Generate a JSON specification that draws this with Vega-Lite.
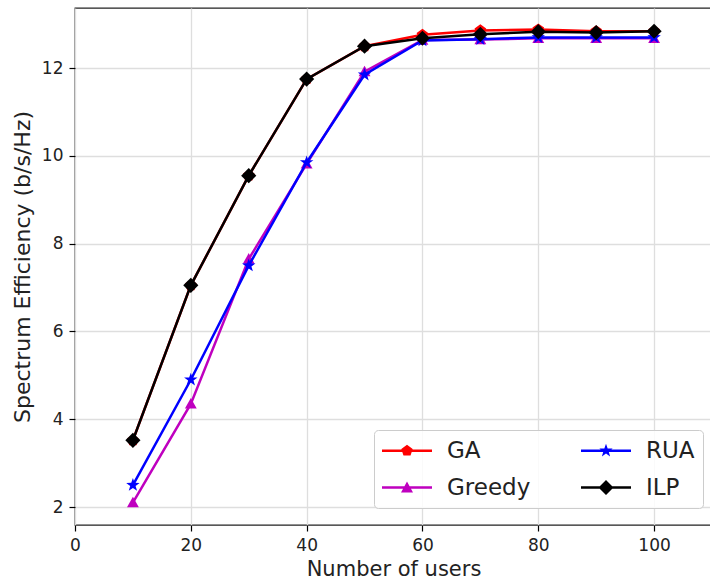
{
  "$schema": "https://vega.github.io/schema/vega-lite/v6.json",
  "width": 637,
  "height": 517,
  "autosize": {"type": "none"},
  "padding": {"left": 75, "top": 8, "right": 0, "bottom": 63},
  "background": "white",
  "config": {
    "view": {"stroke": "#222222", "strokeWidth": 1.3},
    "axis": {
      "domain": false,
      "grid": true,
      "gridColor": "#dedede",
      "gridWidth": 1.3,
      "tickColor": "#000000",
      "tickSize": 6,
      "tickWidth": 1.2,
      "labelFlush": false,
      "labelFont": "DejaVu Sans",
      "labelFontSize": 17,
      "labelColor": "#222222",
      "labelPadding": 6,
      "titleFont": "DejaVu Sans",
      "titleFontWeight": "normal",
      "titleColor": "#222222"
    }
  },
  "data": {
    "values": [
      {"users": 10, "alg": "GA", "se": 3.52},
      {"users": 20, "alg": "GA", "se": 7.05},
      {"users": 30, "alg": "GA", "se": 9.55},
      {"users": 40, "alg": "GA", "se": 11.75},
      {"users": 50, "alg": "GA", "se": 12.5},
      {"users": 60, "alg": "GA", "se": 12.76},
      {"users": 70, "alg": "GA", "se": 12.86},
      {"users": 80, "alg": "GA", "se": 12.88},
      {"users": 90, "alg": "GA", "se": 12.84},
      {"users": 100, "alg": "GA", "se": 12.84},
      {"users": 10, "alg": "Greedy", "se": 2.1},
      {"users": 20, "alg": "Greedy", "se": 4.35},
      {"users": 30, "alg": "Greedy", "se": 7.65},
      {"users": 40, "alg": "Greedy", "se": 9.82},
      {"users": 50, "alg": "Greedy", "se": 11.92},
      {"users": 60, "alg": "Greedy", "se": 12.64},
      {"users": 70, "alg": "Greedy", "se": 12.65},
      {"users": 80, "alg": "Greedy", "se": 12.68},
      {"users": 90, "alg": "Greedy", "se": 12.68},
      {"users": 100, "alg": "Greedy", "se": 12.68},
      {"users": 10, "alg": "RUA", "se": 2.5},
      {"users": 20, "alg": "RUA", "se": 4.9},
      {"users": 30, "alg": "RUA", "se": 7.5},
      {"users": 40, "alg": "RUA", "se": 9.85},
      {"users": 50, "alg": "RUA", "se": 11.85},
      {"users": 60, "alg": "RUA", "se": 12.63},
      {"users": 70, "alg": "RUA", "se": 12.66},
      {"users": 80, "alg": "RUA", "se": 12.7},
      {"users": 90, "alg": "RUA", "se": 12.7},
      {"users": 100, "alg": "RUA", "se": 12.7},
      {"users": 10, "alg": "ILP", "se": 3.52},
      {"users": 20, "alg": "ILP", "se": 7.05},
      {"users": 30, "alg": "ILP", "se": 9.55},
      {"users": 40, "alg": "ILP", "se": 11.75},
      {"users": 50, "alg": "ILP", "se": 12.5},
      {"users": 60, "alg": "ILP", "se": 12.68},
      {"users": 70, "alg": "ILP", "se": 12.77},
      {"users": 80, "alg": "ILP", "se": 12.83},
      {"users": 90, "alg": "ILP", "se": 12.81},
      {"users": 100, "alg": "ILP", "se": 12.84}
    ]
  },
  "encoding": {
    "x": {
      "field": "users",
      "type": "quantitative",
      "scale": {"domain": [0, 110], "nice": false, "zero": false},
      "axis": {"values": [0, 20, 40, 60, 80, 100], "title": "Number of users", "titleFontSize": 21, "titlePadding": 5}
    },
    "y": {
      "field": "se",
      "type": "quantitative",
      "scale": {"domain": [1.59, 13.37], "nice": false, "zero": false},
      "axis": {"values": [2, 4, 6, 8, 10, 12], "title": "Spectrum Efficiency (b/s/Hz)", "titleFontSize": 22, "titlePadding": 7}
    },
    "color": {
      "field": "alg",
      "type": "nominal",
      "scale": {"domain": ["GA", "Greedy", "RUA", "ILP"], "range": ["#ff0000", "#bf00bf", "#0000ff", "#000000"]},
      "legend": {
        "title": null,
        "orient": "none",
        "legendX": 299,
        "legendY": 422,
        "columns": 2,
        "columnPadding": 50,
        "rowPadding": 12,
        "padding": 8,
        "fillColor": "rgba(255,255,255,0.85)",
        "strokeColor": "#cccccc",
        "cornerRadius": 4,
        "symbolSize": 625,
        "labelFont": "DejaVu Sans",
        "labelFontSize": 23,
        "labelColor": "#222222",
        "labelOffset": 40,
        "encode": {
          "symbols": {
            "update": {
              "shape": {"signal": "datum.value === 'GA' ? 'M-1,-0.1L3,-0.1L3,0.1L-1,0.1Z M1,-0.48L1.456,-0.148L1.282,0.388L0.718,0.388L0.544,-0.148Z' : datum.value === 'RUA' ? 'M-1,-0.1L3,-0.1L3,0.1L-1,0.1Z M1,-0.56L1.132,-0.181L1.533,-0.173L1.213,0.069L1.329,0.453L1,0.224L0.671,0.453L0.787,0.069L0.467,-0.173L0.868,-0.181Z' : datum.value === 'Greedy' ? 'M-1,-0.1L3,-0.1L3,0.1L-1,0.1Z M1,-0.48L1.48,0.4L0.52,0.4Z' : 'M-1,-0.1L3,-0.1L3,0.1L-1,0.1Z M1,-0.6L1.6,0L1,0.6L0.4,0Z'"},
              "fill": {"scale": "color", "field": "value"},
              "fillOpacity": {"value": 1},
              "strokeWidth": {"value": 0},
              "opacity": {"value": 1}
            }
          }
        }
      }
    }
  },
  "layer": [
    {
      "transform": [{"filter": "datum.alg === 'GA'"}],
      "layer": [
        {"mark": {"type": "line", "strokeWidth": 2.5}},
        {"mark": {"type": "point", "filled": true, "opacity": 1, "size": 150, "shape": "M0,-1L0.951,-0.309L0.588,0.809L-0.588,0.809L-0.951,-0.309Z"}}
      ]
    },
    {
      "transform": [{"filter": "datum.alg === 'Greedy'"}],
      "layer": [
        {"mark": {"type": "line", "strokeWidth": 2.5}},
        {"mark": {"type": "point", "filled": true, "opacity": 1, "size": 140, "shape": "M0,-1L1,0.8L-1,0.8Z"}}
      ]
    },
    {
      "transform": [{"filter": "datum.alg === 'RUA'"}],
      "layer": [
        {"mark": {"type": "line", "strokeWidth": 2.5}},
        {"mark": {"type": "point", "filled": true, "opacity": 1, "size": 200, "shape": "M0,-1L0.235,-0.324L0.951,-0.309L0.38,0.124L0.588,0.809L0,0.4L-0.588,0.809L-0.38,0.124L-0.951,-0.309L-0.235,-0.324Z"}}
      ]
    },
    {
      "transform": [{"filter": "datum.alg === 'ILP'"}],
      "layer": [
        {"mark": {"type": "line", "strokeWidth": 2.5}},
        {"mark": {"type": "point", "filled": true, "opacity": 1, "size": 230, "shape": "diamond"}}
      ]
    }
  ]
}
